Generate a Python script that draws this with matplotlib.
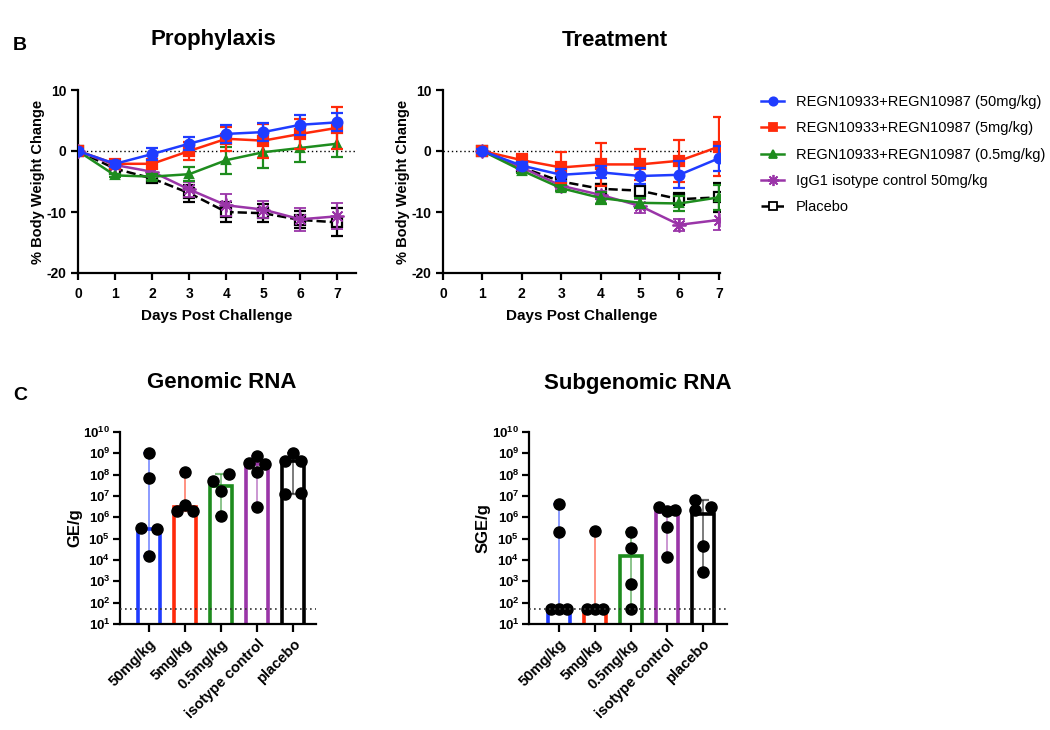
import numpy as np
import matplotlib
matplotlib.use('Agg')
import matplotlib.pyplot as plt
from matplotlib.lines import Line2D
from matplotlib.ticker import FixedLocator, FuncFormatter, NullLocator

plt.rcParams['font.family'] = ['Liberation Sans', 'DejaVu Sans']
plt.rcParams['mathtext.fontset'] = 'custom'
plt.rcParams['mathtext.rm'] = 'Liberation Sans'
plt.rcParams['mathtext.bf'] = 'Liberation Sans:bold'
plt.rcParams['axes.unicode_minus'] = False

# ---- panel B: body weight change (mean, error) ----
series_names = ['REGN10933+REGN10987 (50mg/kg)', 'REGN10933+REGN10987 (5mg/kg)',
                'REGN10933+REGN10987 (0.5mg/kg)', 'IgG1 isotype control 50mg/kg', 'Placebo']
series_colors = ['#1f3cff', '#ff2a0a', '#1e8c1e', '#9a35a8', 'black']
series_markers = ['o', 's', '^', (8, 2, 0), 's']

proph_days = [0, 1, 2, 3, 4, 5, 6, 7]
proph_50 = [0, -2.1, -0.5, 1.2, 2.8, 3.1, 4.3, 4.7]
proph_50_err = [0.3, 0.5, 1.0, 1.1, 1.5, 1.5, 1.6, 1.5]
proph_5 = [0, -2.1, -2.1, 0.0, 2.0, 1.7, 2.8, 3.8]
proph_5_err = [0.3, 0.5, 0.5, 1.5, 2.0, 2.8, 2.5, 3.4]
proph_05 = [0, -4.0, -4.2, -3.8, -1.5, -0.2, 0.5, 1.2]
proph_05_err = [0.3, 0.3, 0.5, 1.1, 2.2, 2.6, 2.3, 2.2]
proph_igg = [0, -2.3, -3.4, -6.3, -8.9, -9.6, -11.2, -10.7]
proph_igg_err = [0.3, 0.4, 0.6, 1.2, 1.8, 1.4, 1.9, 2.1]
proph_plc = [0, -2.9, -4.5, -6.9, -10.0, -10.2, -11.3, -11.7]
proph_plc_err = [0.3, 0.4, 0.6, 1.4, 1.7, 1.5, 1.4, 2.3]

treat_days = [1, 2, 3, 4, 5, 6, 7]
treat_50 = [0, -2.4, -3.9, -3.5, -4.1, -3.9, -1.2]
treat_50_err = [0.3, 0.6, 1.0, 1.0, 1.3, 2.2, 2.0]
treat_5 = [0, -1.5, -2.7, -2.2, -2.2, -1.6, 0.7]
treat_5_err = [0.3, 1.0, 2.5, 3.5, 2.5, 3.4, 4.8]
treat_05 = [0, -3.2, -6.1, -7.7, -8.5, -8.6, -7.6]
treat_05_err = [0.3, 0.4, 0.5, 1.0, 0.8, 1.3, 2.0]
treat_igg = [0, -2.7, -5.7, -7.2, -9.0, -12.1, -11.3]
treat_igg_err = [0.3, 0.4, 0.5, 0.6, 1.2, 1.0, 1.6]
treat_plc = [0, -2.7, -5.0, -6.2, -6.5, -7.9, -7.6]
treat_plc_err = [0.3, 0.4, 0.6, 0.8, 0.8, 1.0, 2.4]

# ---- panel C: viral RNA ----
groups = ['50mg/kg', '5mg/kg', '0.5mg/kg', 'isotype control', 'placebo']
group_colors = ['#1f3cff', '#ff2a0a', '#1e8c1e', '#9a35a8', 'black']
lod = 48

ge_points = [[1.0e9, 7.0e7, 3.0e5, 2.8e5, 1.5e4],
             [1.4e8, 3.8e6, 2.0e6, 2.0e6],
             [1.07e8, 5.0e7, 1.7e7, 1.2e6],
             [7.4e8, 3.7e8, 3.3e8, 1.4e8, 3.0e6],
             [1.05e9, 4.3e8, 4.4e8, 1.26e7, 1.4e7]]
ge_offsets = [[0, 0, -0.7, 0.7, 0],
              [0, 0, -0.7, 0.7],
              [0.7, -0.7, 0, 0],
              [0, -0.7, 0.7, 0, 0],
              [0, -0.7, 0.7, -0.7, 0.65]]
ge_bar = [2.9e5, 2.9e6, 3.0e7, 3.3e8, 4.4e8]

sge_points = [[4.1e6, 2.0e5, 50, 50, 50],
              [2.2e5, 50, 50, 50],
              [2.0e5, 3.7e4, 7.7e2, 50],
              [3.0e6, 2.0e6, 2.2e6, 3.5e5, 1.35e4],
              [6.6e6, 2.1e6, 3.0e6, 4.4e4, 2.8e3]]
sge_offsets = [[0, 0, -0.7, 0, 0.7],
               [0, -0.7, 0, 0.7],
               [0, 0, 0, 0],
               [-0.7, 0, 0.7, 0, 0],
               [-0.7, -0.7, 0.7, 0, 0]]
sge_bar = [50, 50, 1.6e4, 1.7e6, 1.45e6]

W, H = 1050, 730
fig = plt.figure(figsize=(W / 100, H / 100), dpi=100)


def px_axes(l, t, r, b):
    return fig.add_axes([l / W, 1 - b / H, (r - l) / W, (b - t) / H])


def prism_style(ax):
    for s in ['top', 'right']:
        ax.spines[s].set_visible(False)
    for s in ['left', 'bottom']:
        ax.spines[s].set_linewidth(1.6)
    ax.tick_params(width=1.6, length=5, labelsize=10)
    for lab in ax.get_xticklabels() + ax.get_yticklabels():
        lab.set_fontweight('bold')


def weight_panel(ax, days, vals, errs, xmax):
    order = [4, 3, 2, 1, 0]
    for i in order:
        ls = '--' if i == 4 else '-'
        mfc = 'white' if i == 4 else series_colors[i]
        ms = {2: 6, 3: 10}.get(i, 7)
        mew = 1.3 if i == 3 else 1.6
        ax.errorbar(days, vals[i], yerr=errs[i], color=series_colors[i], ls=ls, lw=1.8,
                    marker=series_markers[i], ms=ms, mfc=mfc, mec=series_colors[i], mew=mew,
                    capsize=4.5, elinewidth=1.6, capthick=1.6, zorder=3 + (4 - i))
    ax.axhline(0, color='black', ls=(0, (1, 2)), lw=1.0, zorder=1)
    ax.set_xlim(0, xmax)
    ax.set_ylim(-20, 10)
    ax.set_xticks(range(0, 8))
    ax.set_yticks([-20, -10, 0, 10])
    ax.set_xlabel('Days Post Challenge', fontsize=11, fontweight='bold', labelpad=6)
    ax.set_ylabel('% Body Weight Change', fontsize=10.5, fontweight='bold')
    prism_style(ax)
    ax.tick_params(axis='x', pad=5)


ax1 = px_axes(78, 90, 356, 273)
weight_panel(ax1, proph_days, [proph_50, proph_5, proph_05, proph_igg, proph_plc],
             [proph_50_err, proph_5_err, proph_05_err, proph_igg_err, proph_plc_err], 7.5)
ax1.yaxis.set_label_coords(-33 / (356 - 78), 0.5)
ax2 = px_axes(443, 90, 720, 273)
weight_panel(ax2, treat_days, [treat_50, treat_5, treat_05, treat_igg, treat_plc],
             [treat_50_err, treat_5_err, treat_05_err, treat_igg_err, treat_plc_err], 7.03)
ax2.yaxis.set_label_coords(-33 / (720 - 443), 0.5)

handles = []
for i in range(5):
    ls = '--' if i == 4 else '-'
    mfc = 'white' if i == 4 else series_colors[i]
    ms = 8 if i == 3 else 6
    handles.append(Line2D([], [], color=series_colors[i], ls=ls, lw=1.8, marker=series_markers[i],
                          ms=ms, mfc=mfc, mec=series_colors[i], mew=1.3))
fig.legend(handles, series_names, loc='upper left', bbox_to_anchor=(748 / W, 1 - 82 / H),
           frameon=False, fontsize=10.5, handlelength=1.6, handletextpad=0.8, labelspacing=0.84)


def rna_panel(ax, points, offsets, bars, ylabel):
    x = np.arange(len(groups))
    ax.set_yscale('log')
    ax.bar(x, bars, width=0.62, color='white', edgecolor=group_colors, linewidth=2.6, zorder=2)
    for i in range(len(groups)):
        pts = np.array(points[i])
        ax.errorbar(x[i], bars[i], yerr=[[bars[i] - pts.min()], [pts.max() - bars[i]]],
                    color=group_colors[i], alpha=0.6, elinewidth=1.2, capsize=4, capthick=1.6,
                    fmt='none', zorder=3)
        ax.plot(x[i] + 0.33 * np.array(offsets[i]), pts, 'o', color='black', ms=8, zorder=4)
    ax.axhline(lod, color='#333333', ls=(0, (1, 2)), lw=1.2, zorder=5)
    ax.set_ylim(10, 1e10)
    ax.yaxis.set_major_locator(FixedLocator([10.0 ** k for k in range(1, 11)]))
    ax.yaxis.set_minor_locator(NullLocator())
    ax.yaxis.set_major_formatter(FuncFormatter(lambda v, p: r'$\mathbf{10^{%d}}$' % round(np.log10(v))))
    ax.set_xticks(x)
    ax.set_xticklabels(groups)
    ax.set_ylabel(ylabel, fontsize=12, fontweight='bold')
    prism_style(ax)
    ax.tick_params(axis='y', labelsize=9.5, pad=2)
    ax.tick_params(axis='x', length=6, labelsize=10.5)
    for lab in ax.get_xticklabels():
        lab.set_rotation(45)
        lab.set_ha('right')
        lab.set_rotation_mode('anchor')


ax3 = px_axes(120, 432, 316, 624)
rna_panel(ax3, ge_points, ge_offsets, ge_bar, 'GE/g')
ax3.set_xlim(-0.806, 4.64)
ax3.yaxis.set_label_coords(-38 / (316 - 120), 0.5)
ax4 = px_axes(529, 432, 727, 624)
rna_panel(ax4, sge_points, sge_offsets, sge_bar, 'SGE/g')
ax4.set_xlim(-0.833, 4.67)
ax4.yaxis.set_label_coords(-38 / (727 - 529), 0.5)

fig.text(213 / W, 1 - 40 / H, 'Prophylaxis', ha='center', va='center', fontsize=16, fontweight='bold')
fig.text(615 / W, 1 - 40 / H, 'Treatment', ha='center', va='center', fontsize=16, fontweight='bold')
fig.text(222 / W, 1 - 383 / H, 'Genomic RNA', ha='center', va='center', fontsize=16, fontweight='bold')
fig.text(638 / W, 1 - 383 / H, 'Subgenomic RNA', ha='center', va='center', fontsize=16, fontweight='bold')
fig.text(20 / W, 1 - 45 / H, 'B', ha='center', va='center', fontsize=14, fontweight='bold')
fig.text(20 / W, 1 - 395 / H, 'C', ha='center', va='center', fontsize=14, fontweight='bold')

fig.savefig('out.png', dpi=100)
